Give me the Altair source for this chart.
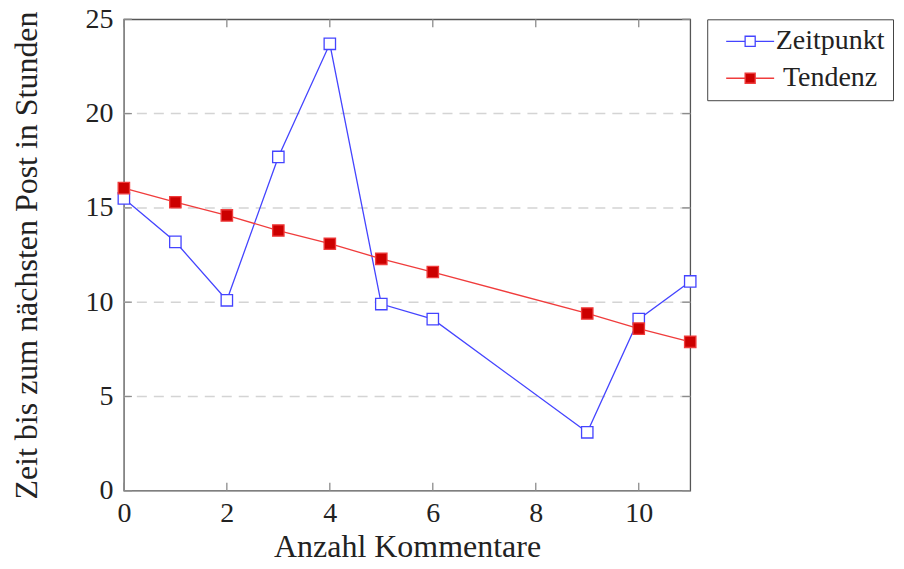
import altair as alt
import pandas as pd

# ---- data ----
x_vals = [0, 1, 2, 3, 4, 5, 6, 9, 10, 11]
zeitpunkt = [15.5, 13.2, 10.1, 17.7, 23.7, 9.9, 9.1, 3.1, 9.1, 11.1]
tendenz = [16.05, 15.3, 14.6, 13.8, 13.1, 12.3, 11.6, 9.4, 8.6, 7.9]
series_names = ["Zeitpunkt", "Tendenz"]
x_ticks = [0, 2, 4, 6, 8, 10]
y_ticks = [0, 5, 10, 15, 20, 25]
grid_vals = [5, 10, 15, 20]

FONT = "Liberation Serif"
FS = 28      # tick labels
TFS = 32     # axis titles
LFS = 28     # legend labels

W, H = 567, 472
TICK = 8

rows = []
for xv, v in zip(x_vals, zeitpunkt):
    rows.append({"x": xv, "y": v, "series": "Zeitpunkt"})
for xv, v in zip(x_vals, tendenz):
    rows.append({"x": xv, "y": v, "series": "Tendenz"})
df = pd.DataFrame(rows)

xscale = alt.Scale(domain=[0, 11], nice=False, zero=False)
yscale = alt.Scale(domain=[0, 25], nice=False, zero=False)

xaxis = alt.Axis(
    values=x_ticks, ticks=False, tickSize=0, domain=False, grid=False,
    labelPadding=9, labelFlush=False,
    labelFont=FONT, labelFontSize=FS, labelColor="#222",
    title="Anzahl Kommentare", titleFont=FONT, titleFontSize=TFS,
    titleFontWeight="normal", titleColor="#222", titlePadding=4)
yaxis = alt.Axis(
    values=y_ticks, ticks=False, tickSize=0, domain=False, grid=False,
    labelPadding=11, labelFlush=False,
    labelFont=FONT, labelFontSize=FS, labelColor="#222",
    title="Zeit bis zum nächsten Post in Stunden", titleFont=FONT,
    titleFontSize=TFS, titleFontWeight="normal", titleColor="#222",
    titlePadding=41)

# dashed horizontal grid
grid = alt.Chart(pd.DataFrame({"g": grid_vals})).mark_rule(
    color="#d4d4d4", strokeWidth=1.5, strokeDash=[10, 7]
).encode(y=alt.Y("g:Q", scale=yscale, axis=yaxis))

# inward tick marks on all four sides
tick_style = dict(color="#8c8c8c", strokeWidth=1.3)
xt = alt.Chart(pd.DataFrame({"t": x_ticks}))
yt = alt.Chart(pd.DataFrame({"t": y_ticks}))
ticks_bottom = xt.mark_rule(**tick_style).encode(
    x=alt.X("t:Q", scale=xscale, axis=xaxis), y=alt.value(H), y2=alt.value(H - TICK))
ticks_top = xt.mark_rule(**tick_style).encode(
    x=alt.X("t:Q", scale=xscale, axis=xaxis), y=alt.value(0), y2=alt.value(TICK))
ticks_left = yt.mark_rule(**tick_style).encode(
    y=alt.Y("t:Q", scale=yscale, axis=yaxis), x=alt.value(0), x2=alt.value(TICK))
ticks_right = yt.mark_rule(**tick_style).encode(
    y=alt.Y("t:Q", scale=yscale, axis=yaxis), x=alt.value(W), x2=alt.value(W - TICK))

legend_symbol = "M-0.25,0L1.33,0M2.17,0L3.75,0M1.33,-0.42H2.17V0.42H1.33Z"
leg = alt.Legend(
    title=None, orient="none", legendX=584, legendY=0,
    strokeColor="#444", fillColor="white", padding=8,
    symbolType=legend_symbol, symbolSize=576, symbolStrokeWidth=1.3,
    labelFont=FONT, labelFontSize=LFS, labelColor="#222",
    labelAlign="center", labelOffset=87, rowPadding=9,
)
stroke_enc = alt.Stroke("series:N", scale=alt.Scale(
    domain=series_names, range=["#4444ff", "#f03c3c"]), legend=leg)

lines = alt.Chart(df).mark_line(strokeWidth=1.3).encode(
    x=alt.X("x:Q", scale=xscale, axis=xaxis),
    y=alt.Y("y:Q", scale=yscale, axis=yaxis),
    stroke=stroke_enc,
)

points = alt.Chart(df).mark_point(
    shape="square", size=130, strokeWidth=1.3, opacity=1, fillOpacity=1
).encode(
    x=alt.X("x:Q", scale=xscale, axis=xaxis),
    y=alt.Y("y:Q", scale=yscale, axis=yaxis),
    stroke=stroke_enc,
    fill=alt.Fill("series:N", scale=alt.Scale(domain=series_names,
                  range=["white", "#cc0000"]), legend=leg),
)

chart = alt.layer(
    grid, ticks_bottom, ticks_top, ticks_left, ticks_right, lines, points
).properties(
    width=W, height=H,
    autosize=alt.AutoSizeParams(type="none"),
    padding={"left": 116, "top": 11, "right": 206, "bottom": 72},
).configure_view(stroke="#555", strokeWidth=1.3)

chart.save("out.html", embed_options={"renderer": "svg", "actions": False})
